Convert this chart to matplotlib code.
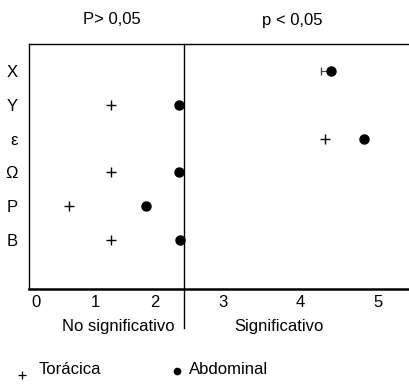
import numpy as np
import matplotlib
matplotlib.use("Agg")
import matplotlib.pyplot as plt
from matplotlib.lines import Line2D
import matplotlib.transforms as mtransforms

# ---- data ----
rows = ["X", "Y", "ε", "Ω", "P", "B"]
row_pos = [6, 5, 4, 3, 2, 1]
toracica = [None, 1.27, 4.32, 1.27, 0.56, 1.27]
abdominal = [4.39, 2.42, 4.82, 2.42, 1.86, 2.43]
x_err_low = [0.12, 0, 0, 0, 0, 0]
x_ticks = [0, 1, 2, 3, 4, 5]
split = 2.5
top_labels = ["P> 0,05", "p < 0,05"]
bottom_labels = ["No significativo", "Significativo"]
legend_labels = ["Torácica", "Abdominal"]

plt.rcParams["font.family"] = ["Liberation Sans", "DejaVu Sans"]

L, R = 59.2, 77.6
def fwd(x):
    x = np.asarray(x, dtype=float)
    return np.where(x <= split, x * L, split * L + (x - split) * R)
def inv(p):
    p = np.asarray(p, dtype=float)
    return np.where(p <= split * L, p / L, split + (p - split * L) / R)

W, H = 409, 385
x0, x1 = 28.5, 413.0
fig = plt.figure(figsize=(W / 100, H / 100), dpi=100)
ax = fig.add_axes([x0 / W, (H - 289) / H, (x1 - x0) / W, (289 - 44) / H])
ax.set_xscale("function", functions=(fwd, inv))
xl = -(184 - x0) / L + split
xr = split + (x1 - 184) / R
ax.set_xlim(xl, xr)
ax.set_ylim(-0.45, 6.8)

for i, y in enumerate(row_pos):
    if toracica[i] is not None:
        ax.plot(toracica[i], y, marker="+", color="black", markersize=7, mew=1.0, ls="none")
    if x_err_low[i] > 0:
        ax.errorbar(abdominal[i], y, xerr=[[x_err_low[i]], [0]], fmt="none",
                    ecolor="#444444", elinewidth=0.8, capsize=3, capthick=1.0)
    ax.plot(abdominal[i], y, marker="o", color="black", markersize=6.5, ls="none")

fs = 12
ax.set_xticks(x_ticks)
ax.set_xticklabels([str(t) for t in x_ticks], fontsize=fs)
ax.set_yticks(row_pos)
ax.set_yticklabels(rows, fontsize=fs)
ax.tick_params(length=0, pad=4)
ax.tick_params(axis="y", pad=8)
for s in ["left", "top"]:
    ax.spines[s].set_linewidth(1.0)
ax.spines["bottom"].set_linewidth(1.8)
ax.spines["right"].set_visible(False)

trans = mtransforms.blended_transform_factory(ax.transData, ax.transAxes)
ax.plot([split, split], [1.0, (289 - 328) / 245], transform=trans, color="black",
        lw=1.0, clip_on=False)

fig.text(112 / W, 1 - 20 / H, top_labels[0], ha="center", va="center", fontsize=fs)
fig.text(292 / W, 1 - 20 / H, top_labels[1], ha="center", va="center", fontsize=fs)
fig.text(118 / W, 1 - 327 / H, bottom_labels[0], ha="center", va="center", fontsize=fs)
fig.text(279 / W, 1 - 327 / H, bottom_labels[1], ha="center", va="center", fontsize=fs)

fig.add_artist(Line2D([22 / W], [1 - 375 / H], marker="+", color="black", markersize=6,
                      mew=0.9, transform=fig.transFigure))
fig.text(39 / W, 1 - 370 / H, legend_labels[0], ha="left", va="center", fontsize=fs)
fig.add_artist(Line2D([177 / W], [1 - 371 / H], marker="o", color="black", markersize=4.5,
                      transform=fig.transFigure))
fig.text(189 / W, 1 - 370 / H, legend_labels[1], ha="left", va="center", fontsize=fs)

fig.savefig("out.png", dpi=100)
